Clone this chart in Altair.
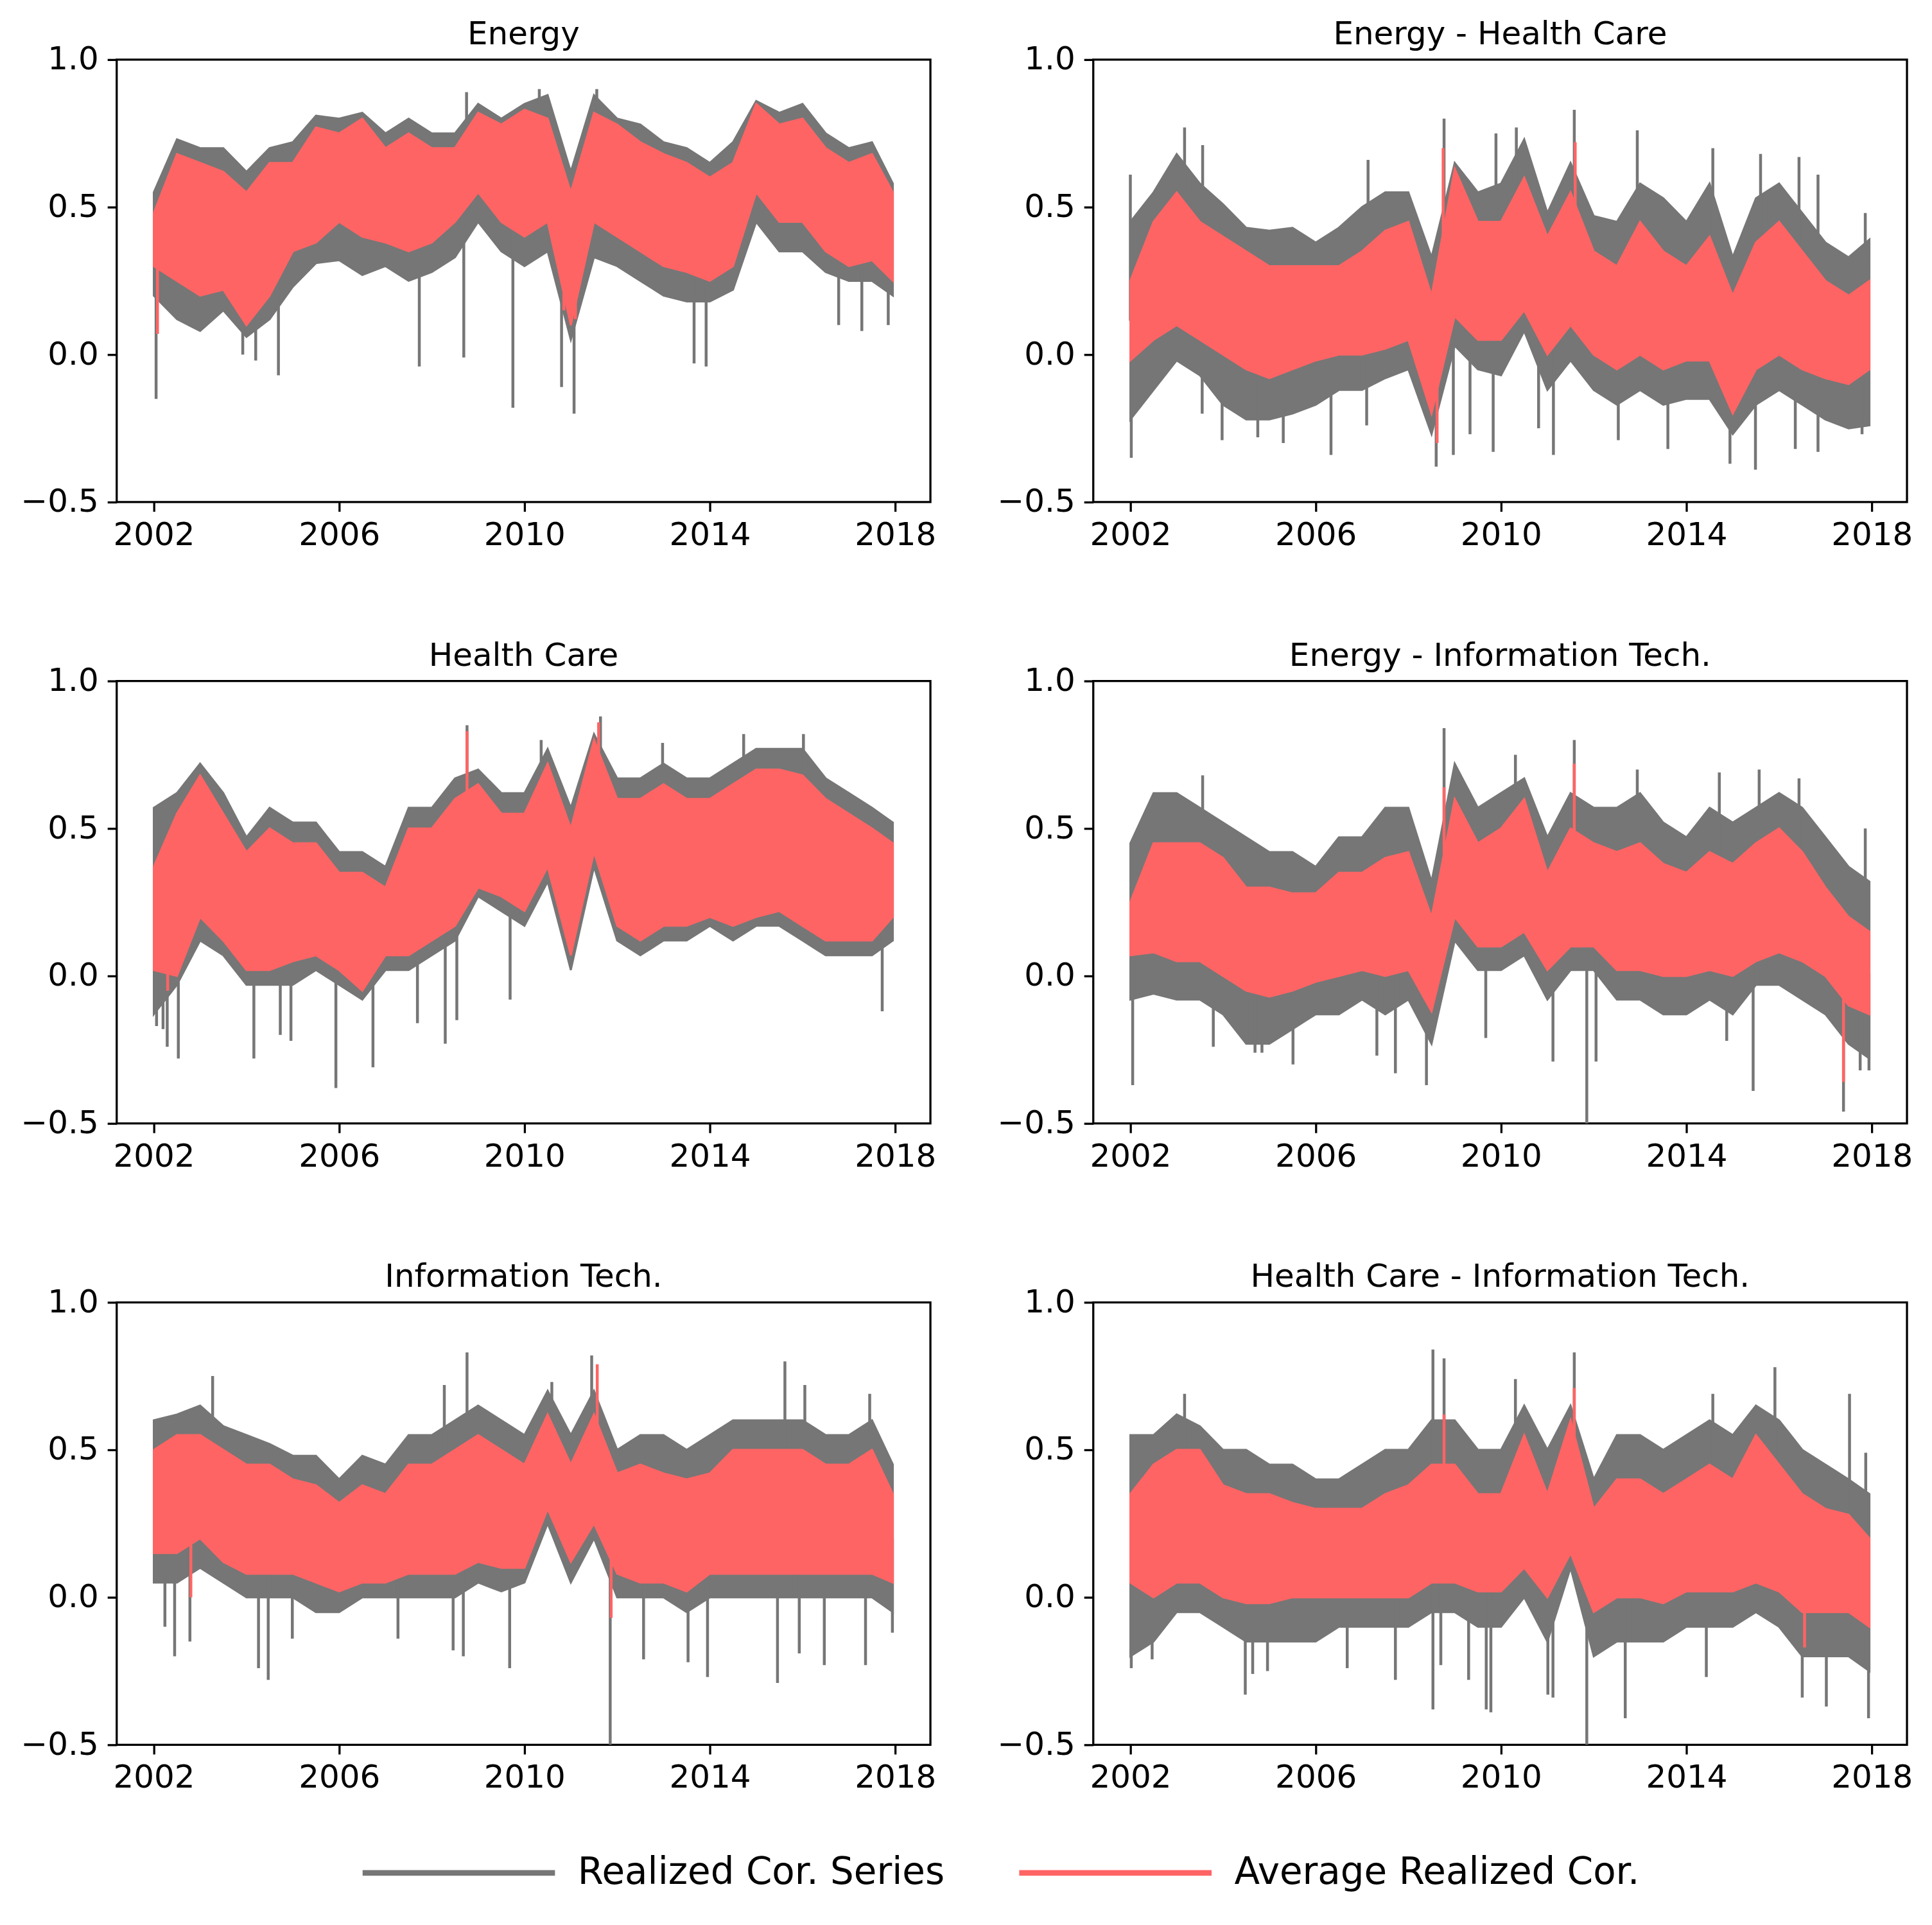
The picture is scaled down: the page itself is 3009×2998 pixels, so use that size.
import altair as alt
import pandas as pd

# ---------------- data ----------------
TIMES = [2002.0, 2002.5, 2003.0, 2003.5, 2004.0, 2004.5, 2005.0, 2005.5,
         2006.0, 2006.5, 2007.0, 2007.5, 2008.0, 2008.5, 2009.0, 2009.5,
         2010.0, 2010.5, 2011.0, 2011.5, 2012.0, 2012.5, 2013.0, 2013.5,
         2014.0, 2014.5, 2015.0, 2015.5, 2016.0, 2016.5, 2017.0, 2017.5, 2017.95]

PANELS = ["Energy", "Energy - Health Care", "Health Care",
          "Energy - Information Tech.", "Information Tech.",
          "Health Care - Information Tech."]
SERIES = ["Realized Cor. Series", "Average Realized Cor."]
YEAR_TICKS = [2002, 2006, 2010, 2014, 2018]
COR_TICKS = [-0.5, 0.0, 0.5, 1.0]

# Energy
E_GRAY_HI = [0.55, 0.73, 0.70, 0.70, 0.62, 0.70, 0.72, 0.81, 0.80, 0.82, 0.75, 0.80, 0.75, 0.75, 0.85, 0.80, 0.85,
             0.88, 0.62, 0.88, 0.80, 0.78, 0.72, 0.70, 0.65, 0.72, 0.86, 0.82, 0.85, 0.75, 0.70, 0.72, 0.58]
E_GRAY_LO = [0.20, 0.12, 0.08, 0.15, 0.06, 0.12, 0.23, 0.31, 0.32, 0.27, 0.30, 0.25, 0.28, 0.33, 0.45, 0.35, 0.30,
             0.35, 0.05, 0.33, 0.30, 0.25, 0.20, 0.18, 0.18, 0.22, 0.45, 0.35, 0.35, 0.28, 0.25, 0.25, 0.20]
E_RED_HI = [0.48, 0.68, 0.65, 0.62, 0.55, 0.65, 0.65, 0.77, 0.75, 0.80, 0.70, 0.75, 0.70, 0.70, 0.82, 0.78, 0.83,
            0.80, 0.55, 0.82, 0.78, 0.72, 0.68, 0.65, 0.60, 0.65, 0.85, 0.78, 0.80, 0.70, 0.65, 0.68, 0.55]
E_RED_LO = [0.30, 0.25, 0.20, 0.22, 0.10, 0.20, 0.35, 0.38, 0.45, 0.40, 0.38, 0.35, 0.38, 0.45, 0.55, 0.45, 0.40,
            0.45, 0.10, 0.45, 0.40, 0.35, 0.30, 0.28, 0.25, 0.30, 0.55, 0.45, 0.45, 0.35, 0.30, 0.32, 0.25]
E_SPIKES = [(2002.05, -0.15), (2003.92, 0.00), (2004.20, -0.02), (2004.69, -0.07), (2007.73, -0.04),
            (2008.69, -0.01), (2009.75, -0.18), (2010.80, -0.11), (2011.07, -0.20), (2013.66, -0.03),
            (2013.92, -0.04), (2016.78, 0.10), (2017.28, 0.08), (2017.85, 0.10),
            (2008.75, 0.89), (2010.32, 0.90), (2011.56, 0.90)]
E_RED_SPIKES = [(2002.08, 0.07), (2010.85, 0.15), (2011.10, 0.12)]

# Energy - Health Care
EH_GRAY_HI = [0.45, 0.55, 0.68, 0.58, 0.51, 0.43, 0.42, 0.43, 0.38, 0.43, 0.50, 0.55, 0.55, 0.33, 0.65, 0.55, 0.58,
              0.73, 0.48, 0.65, 0.47, 0.45, 0.58, 0.53, 0.45, 0.58, 0.33, 0.53, 0.58, 0.48, 0.38, 0.33, 0.39]
EH_GRAY_LO = [-0.22, -0.12, -0.02, -0.07, -0.17, -0.22, -0.22, -0.20, -0.17, -0.12, -0.12, -0.08, -0.05, -0.27,
              0.03, -0.05, -0.07, 0.08, -0.12, -0.02, -0.12, -0.17, -0.12, -0.17, -0.15, -0.15, -0.27, -0.17,
              -0.12, -0.17, -0.22, -0.25, -0.24]
EH_RED_HI = [0.25, 0.45, 0.55, 0.45, 0.40, 0.35, 0.30, 0.30, 0.30, 0.30, 0.35, 0.42, 0.45, 0.20, 0.63, 0.45, 0.45,
             0.60, 0.40, 0.55, 0.35, 0.30, 0.45, 0.35, 0.30, 0.40, 0.20, 0.38, 0.45, 0.35, 0.25, 0.20, 0.25]
EH_RED_LO = [-0.02, 0.05, 0.10, 0.05, 0.00, -0.05, -0.08, -0.05, -0.02, 0.00, 0.00, 0.02, 0.05, -0.20, 0.13, 0.05,
             0.05, 0.15, 0.00, 0.10, 0.00, -0.05, 0.00, -0.05, -0.02, -0.02, -0.20, -0.05, 0.00, -0.05, -0.08,
             -0.10, -0.05]
EH_SPIKES = [(2002.02, -0.35), (2003.55, -0.20), (2003.98, -0.29), (2004.75, -0.28), (2005.30, -0.30),
             (2006.33, -0.34), (2007.10, -0.24), (2008.60, -0.38), (2008.97, -0.34), (2009.33, -0.27),
             (2009.83, -0.33), (2010.81, -0.25), (2011.13, -0.34), (2012.53, -0.29), (2013.60, -0.32),
             (2014.94, -0.37), (2015.49, -0.39), (2016.35, -0.32), (2016.84, -0.33), (2017.79, -0.27),
             (2002.00, 0.61), (2003.17, 0.77), (2003.56, 0.71), (2007.13, 0.66), (2008.77, 0.80),
             (2009.89, 0.75), (2010.33, 0.77), (2011.58, 0.83), (2012.94, 0.76), (2014.57, 0.70),
             (2015.60, 0.68), (2016.43, 0.67), (2016.84, 0.61), (2017.86, 0.48)]
EH_RED_SPIKES = [(2008.62, -0.30), (2011.60, 0.72), (2008.75, 0.70)]

# Health Care
H_GRAY_HI = [0.57, 0.62, 0.72, 0.62, 0.47, 0.57, 0.52, 0.52, 0.42, 0.42, 0.37, 0.57, 0.57, 0.67, 0.70, 0.62, 0.62,
             0.77, 0.57, 0.82, 0.67, 0.67, 0.72, 0.67, 0.67, 0.72, 0.77, 0.77, 0.77, 0.67, 0.62, 0.57, 0.52]
H_GRAY_LO = [-0.13, -0.03, 0.12, 0.07, -0.03, -0.03, -0.03, 0.02, -0.03, -0.08, 0.02, 0.02, 0.07, 0.12, 0.27,
             0.22, 0.17, 0.32, 0.02, 0.37, 0.12, 0.07, 0.12, 0.12, 0.17, 0.12, 0.17, 0.17, 0.12, 0.07, 0.07, 0.07, 0.12]
H_RED_HI = [0.37, 0.55, 0.68, 0.55, 0.42, 0.50, 0.45, 0.45, 0.35, 0.35, 0.30, 0.50, 0.50, 0.60, 0.65, 0.55, 0.55,
            0.72, 0.50, 0.80, 0.60, 0.60, 0.65, 0.60, 0.60, 0.65, 0.70, 0.70, 0.68, 0.60, 0.55, 0.50, 0.45]
H_RED_LO = [0.02, 0.00, 0.20, 0.12, 0.02, 0.02, 0.05, 0.07, 0.02, -0.05, 0.07, 0.07, 0.12, 0.17, 0.30, 0.27, 0.22,
            0.37, 0.07, 0.42, 0.17, 0.12, 0.17, 0.17, 0.20, 0.17, 0.20, 0.22, 0.17, 0.12, 0.12, 0.12, 0.20]
H_SPIKES = [(2002.06, -0.17), (2002.20, -0.18), (2002.29, -0.24), (2002.53, -0.28), (2004.16, -0.28),
            (2004.73, -0.20), (2004.96, -0.22), (2005.93, -0.38), (2006.73, -0.31), (2007.69, -0.16),
            (2008.29, -0.23), (2008.54, -0.15), (2009.69, -0.08), (2017.72, -0.12),
            (2008.76, 0.85), (2011.64, 0.88), (2010.36, 0.80), (2014.73, 0.82), (2016.02, 0.82), (2012.98, 0.79)]
H_RED_SPIKES = [(2002.30, -0.05), (2008.76, 0.83), (2011.60, 0.86)]

# Energy - Information Tech.
EI_GRAY_HI = [0.45, 0.62, 0.62, 0.57, 0.52, 0.47, 0.42, 0.42, 0.37, 0.47, 0.47, 0.57, 0.57, 0.32, 0.72, 0.57, 0.62,
              0.67, 0.47, 0.62, 0.57, 0.57, 0.62, 0.52, 0.47, 0.57, 0.52, 0.57, 0.62, 0.57, 0.47, 0.37, 0.32]
EI_GRAY_LO = [-0.08, -0.06, -0.08, -0.08, -0.13, -0.23, -0.23, -0.18, -0.13, -0.13, -0.08, -0.13, -0.08, -0.23,
              0.12, 0.02, 0.02, 0.07, -0.08, 0.02, 0.02, -0.08, -0.08, -0.13, -0.13, -0.08, -0.13, -0.03, -0.03,
              -0.08, -0.13, -0.23, -0.28]
EI_RED_HI = [0.25, 0.45, 0.45, 0.45, 0.40, 0.30, 0.30, 0.28, 0.28, 0.35, 0.35, 0.40, 0.42, 0.20, 0.60, 0.45, 0.50,
             0.60, 0.35, 0.50, 0.45, 0.42, 0.45, 0.38, 0.35, 0.42, 0.38, 0.45, 0.50, 0.42, 0.30, 0.20, 0.15]
EI_RED_LO = [0.07, 0.08, 0.05, 0.05, 0.00, -0.05, -0.07, -0.05, -0.02, 0.00, 0.02, 0.00, 0.02, -0.12, 0.20, 0.10,
             0.10, 0.15, 0.02, 0.10, 0.10, 0.02, 0.02, 0.00, 0.00, 0.02, 0.00, 0.05, 0.08, 0.05, 0.00, -0.10, -0.13]
EI_SPIKES = [(2002.05, -0.37), (2003.79, -0.24), (2004.69, -0.26), (2004.84, -0.26), (2005.51, -0.30),
             (2007.32, -0.27), (2007.72, -0.33), (2008.39, -0.37), (2009.67, -0.21), (2011.12, -0.29),
             (2011.85, -0.50), (2012.05, -0.29), (2014.87, -0.22), (2015.44, -0.39), (2017.39, -0.46),
             (2017.75, -0.32), (2017.94, -0.32),
             (2008.77, 0.84), (2011.58, 0.80), (2010.31, 0.75), (2012.94, 0.70), (2014.71, 0.69),
             (2015.57, 0.70), (2016.43, 0.67), (2017.86, 0.50), (2003.56, 0.68)]
EI_RED_SPIKES = [(2017.39, -0.36), (2008.77, 0.64), (2011.58, 0.72)]

# Information Tech.
I_GRAY_HI = [0.60, 0.62, 0.65, 0.58, 0.55, 0.52, 0.48, 0.48, 0.40, 0.48, 0.45, 0.55, 0.55, 0.60, 0.65, 0.60, 0.55,
             0.70, 0.55, 0.70, 0.50, 0.55, 0.55, 0.50, 0.55, 0.60, 0.60, 0.60, 0.60, 0.55, 0.55, 0.60, 0.45]
I_GRAY_LO = [0.05, 0.05, 0.10, 0.05, 0.00, 0.00, 0.00, -0.05, -0.05, 0.00, 0.00, 0.00, 0.00, 0.00, 0.05, 0.02, 0.05,
             0.25, 0.05, 0.20, 0.00, 0.00, 0.00, -0.05, 0.00, 0.00, 0.00, 0.00, 0.00, 0.00, 0.00, 0.00, -0.05]
I_RED_HI = [0.50, 0.55, 0.55, 0.50, 0.45, 0.45, 0.40, 0.38, 0.32, 0.38, 0.35, 0.45, 0.45, 0.50, 0.55, 0.50, 0.45,
            0.62, 0.45, 0.62, 0.42, 0.45, 0.42, 0.40, 0.42, 0.50, 0.50, 0.50, 0.50, 0.45, 0.45, 0.50, 0.35]
I_RED_LO = [0.15, 0.15, 0.20, 0.12, 0.08, 0.08, 0.08, 0.05, 0.02, 0.05, 0.05, 0.08, 0.08, 0.08, 0.12, 0.10, 0.10,
            0.30, 0.12, 0.25, 0.08, 0.05, 0.05, 0.02, 0.08, 0.08, 0.08, 0.08, 0.08, 0.08, 0.08, 0.08, 0.05]
I_SPIKES = [(2002.24, -0.10), (2002.45, -0.20), (2002.78, -0.15), (2004.26, -0.24), (2004.47, -0.28),
            (2004.99, -0.14), (2007.27, -0.14), (2008.46, -0.18), (2008.68, -0.20), (2009.68, -0.24),
            (2011.85, -0.50), (2012.57, -0.21), (2013.53, -0.22), (2013.95, -0.27), (2015.46, -0.29),
            (2015.93, -0.19), (2016.47, -0.23), (2017.36, -0.23), (2017.94, -0.12),
            (2003.27, 0.75), (2008.76, 0.83), (2011.45, 0.82), (2015.62, 0.80), (2016.05, 0.72),
            (2017.45, 0.69), (2008.27, 0.72), (2010.59, 0.73)]
I_RED_SPIKES = [(2011.57, 0.79), (2011.87, -0.07), (2002.80, 0.00)]

# Health Care - Information Tech.
HI_GRAY_HI = [0.55, 0.55, 0.62, 0.58, 0.50, 0.50, 0.45, 0.45, 0.40, 0.40, 0.45, 0.50, 0.50, 0.60, 0.60, 0.50, 0.50,
              0.65, 0.50, 0.65, 0.40, 0.55, 0.55, 0.50, 0.55, 0.60, 0.55, 0.65, 0.60, 0.50, 0.45, 0.40, 0.35]
HI_GRAY_LO = [-0.20, -0.15, -0.05, -0.05, -0.10, -0.15, -0.15, -0.15, -0.15, -0.10, -0.10, -0.10, -0.10, -0.05,
              -0.05, -0.10, -0.10, 0.00, -0.15, 0.10, -0.20, -0.15, -0.15, -0.15, -0.10, -0.10, -0.10, -0.05,
              -0.10, -0.20, -0.20, -0.20, -0.25]
HI_RED_HI = [0.35, 0.45, 0.50, 0.50, 0.38, 0.35, 0.35, 0.32, 0.30, 0.30, 0.30, 0.35, 0.38, 0.45, 0.45, 0.35, 0.35,
             0.55, 0.35, 0.60, 0.30, 0.40, 0.40, 0.35, 0.40, 0.45, 0.40, 0.55, 0.45, 0.35, 0.30, 0.28, 0.20]
HI_RED_LO = [0.05, 0.00, 0.05, 0.05, 0.00, -0.02, -0.02, 0.00, 0.00, 0.00, 0.00, 0.00, 0.00, 0.05, 0.05, 0.02, 0.02,
             0.10, 0.00, 0.15, -0.05, 0.00, 0.00, -0.02, 0.02, 0.02, 0.02, 0.05, 0.02, -0.05, -0.05, -0.05, -0.10]
HI_SPIKES = [(2002.02, -0.24), (2002.47, -0.21), (2004.48, -0.33), (2004.64, -0.26), (2004.96, -0.25),
             (2006.68, -0.24), (2007.72, -0.28), (2008.53, -0.38), (2008.70, -0.23), (2009.30, -0.28),
             (2009.68, -0.38), (2009.78, -0.39), (2011.01, -0.33), (2011.12, -0.34), (2011.85, -0.50),
             (2012.68, -0.41), (2014.43, -0.27), (2016.50, -0.34), (2017.02, -0.37), (2017.93, -0.41),
             (2003.17, 0.69), (2008.53, 0.84), (2008.77, 0.81), (2010.31, 0.74), (2011.58, 0.83),
             (2014.57, 0.69), (2015.91, 0.78), (2017.52, 0.69), (2017.87, 0.49)]
HI_RED_SPIKES = [(2011.58, 0.71), (2016.55, -0.17), (2008.77, 0.62)]

GRAY = "#767676"
RED = "#ff6464"
FONT = "DejaVu Sans"

PANEL_DATA = [
    (E_GRAY_HI, E_GRAY_LO, E_RED_HI, E_RED_LO, E_SPIKES, E_RED_SPIKES),
    (EH_GRAY_HI, EH_GRAY_LO, EH_RED_HI, EH_RED_LO, EH_SPIKES, EH_RED_SPIKES),
    (H_GRAY_HI, H_GRAY_LO, H_RED_HI, H_RED_LO, H_SPIKES, H_RED_SPIKES),
    (EI_GRAY_HI, EI_GRAY_LO, EI_RED_HI, EI_RED_LO, EI_SPIKES, EI_RED_SPIKES),
    (I_GRAY_HI, I_GRAY_LO, I_RED_HI, I_RED_LO, I_SPIKES, I_RED_SPIKES),
    (HI_GRAY_HI, HI_GRAY_LO, HI_RED_HI, HI_RED_LO, HI_SPIKES, HI_RED_SPIKES),
]

W, H = 1269, 690

x_enc = alt.X("t:Q",
              scale=alt.Scale(domain=[2001.2, 2018.76], nice=False, zero=False),
              axis=alt.Axis(values=YEAR_TICKS, format="d", title=None))
y_scale = alt.Scale(domain=[-0.5, 1.0], nice=False, zero=False)
y_axis = alt.Axis(values=COR_TICKS, format=".1f", title=None)
color_enc = alt.Color("series:N",
                      scale=alt.Scale(domain=SERIES, range=[GRAY, RED]),
                      legend=alt.Legend(title=None, orient="none", direction="horizontal",
                                        legendX=379, legendY=2673,
                                        symbolType="stroke", symbolSize=90000,
                                        symbolStrokeWidth=8.6, labelFontSize=58,
                                        labelFont=FONT, labelColor="black", labelLimit=3000,
                                        labelOffset=31, columnPadding=98, padding=0))


def nearest_mid(t, rhi, rlo):
    best = min(range(len(TIMES)), key=lambda i: abs(TIMES[i] - t))
    return (rhi[best] + rlo[best]) / 2.0


def panel(name, ghi, glo, rhi, rlo, spikes, red_spikes):
    band = pd.DataFrame({"t": TIMES, "g_hi": ghi, "g_lo": glo, "r_hi": rhi, "r_lo": rlo})
    sp = pd.DataFrame([{"t": t, "v": v, "base": nearest_mid(t, rhi, rlo), "series": SERIES[0]}
                       for t, v in spikes])
    rsp = pd.DataFrame([{"t": t, "v": v, "base": nearest_mid(t, rhi, rlo), "series": SERIES[1]}
                        for t, v in red_spikes])
    gray_area = alt.Chart(band).mark_area(color=GRAY, stroke=GRAY, strokeWidth=3, opacity=1,
                                          clip=True).encode(
        x=x_enc, y=alt.Y("g_lo:Q", scale=y_scale, axis=y_axis), y2="g_hi:Q")
    gray_spk = alt.Chart(sp).mark_rule(strokeWidth=4.5, clip=True).encode(
        x=x_enc, y=alt.Y("v:Q", scale=y_scale, axis=y_axis), y2="base:Q", color=color_enc)
    red_area = alt.Chart(band).mark_area(color=RED, stroke=RED, strokeWidth=3, opacity=1,
                                         clip=True).encode(
        x=x_enc, y=alt.Y("r_lo:Q", scale=y_scale, axis=y_axis), y2="r_hi:Q")
    red_spk = alt.Chart(rsp).mark_rule(strokeWidth=4.5, clip=True).encode(
        x=x_enc, y=alt.Y("v:Q", scale=y_scale, axis=y_axis), y2="base:Q", color=color_enc)
    return alt.layer(gray_area, gray_spk, red_area, red_spk).properties(
        width=W, height=H,
        title=alt.TitleParams(text=name, fontSize=50, font=FONT, fontWeight="normal",
                              color="black", offset=-51, baseline="alphabetic", anchor="middle"))


charts = [panel(PANELS[i], *PANEL_DATA[i]) for i in range(6)]
rows = [alt.hconcat(charts[0], charts[1], spacing=91),
        alt.hconcat(charts[2], charts[3], spacing=91),
        alt.hconcat(charts[4], charts[5], spacing=91)]

chart = alt.vconcat(*rows, spacing=134).properties(
    padding={"left": 22, "top": 17, "right": 20, "bottom": 20}
).configure_view(
    stroke="black", strokeWidth=3.3
).configure_axis(
    domain=False, grid=False, ticks=True, tickColor="black", tickWidth=3.3, tickSize=14.6,
    labelFontSize=50, labelFont=FONT, labelColor="black", labelPadding=12
).configure_axisY(labelPadding=14)

chart.save("out.html", embed_options={"renderer": "svg", "actions": False})
